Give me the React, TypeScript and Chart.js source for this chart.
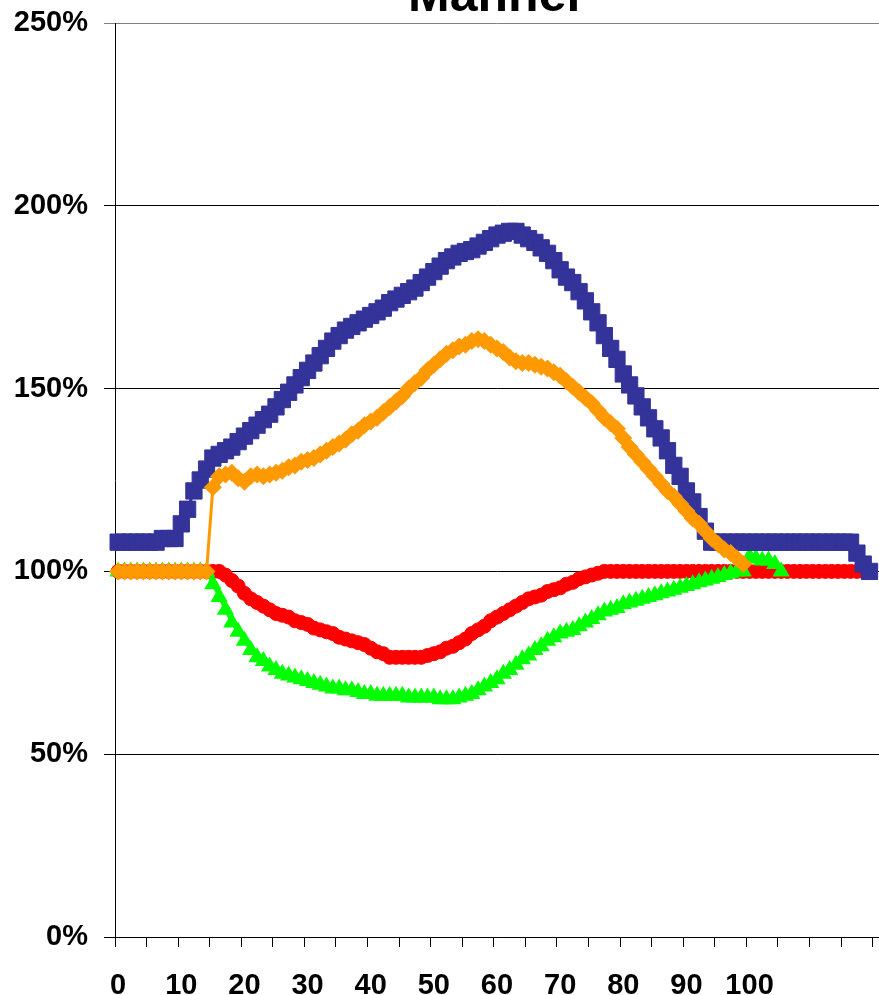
import React, { useEffect, useRef } from 'react';
import { Chart, registerables } from 'chart.js';

Chart.register(...registerables);

// Category axis: 121 positions, labelled every 10 up to 100
const categories: string[] = Array.from({ length: 121 }, (_, i) => String(i));
const xTickLabels: string[] = ['0', '10', '20', '30', '40', '50', '60', '70', '80', '90', '100'];
const yTickValues: number[] = [0, 50, 100, 150, 200, 250];

const titleText = 'Manner';

// Series values (percent)
const blueSeries: (number | null)[] = [
  108, 108, 108, 108, 108, 108, 108, 109, 109, 109,
  113, 117, 122, 125, 128, 131, 132, 133, 134, 135.5,
  137, 138.5, 140, 141.5, 143, 145, 147, 149, 151, 153,
  155, 157, 159, 161, 163, 164.5, 166, 167, 168, 169,
  170, 171, 172, 173.5, 174.5, 175.5, 176.5, 177.5, 179, 180.5,
  182, 183.5, 185, 186, 187, 187.5, 188, 189, 190, 191,
  192, 192.5, 193, 193, 192, 191, 190, 188.5, 187, 185,
  182.5, 180.5, 179, 176.5, 174, 171, 168, 164.5, 161, 158,
  154, 151, 148, 145, 142, 139, 136.5, 133, 129, 126,
  122, 119, 115, 111, 108, 108, 108, 108, 108, 108,
  108, 108, 108, 108, 108, 108, 108, 108, 108, 108,
  108, 108, 108, 108, 108, 108, 108, 105, 102, 100,
];

const orangeSeries: (number | null)[] = [
  100, 100, 100, 100, 100, 100, 100, 100, 100, 100,
  100, 100, 100, 100, 100, 123, 126, 126.5, 127, 125.5,
  124.5, 126, 126.5, 126, 126.5, 127, 127.5, 128.5, 129, 130,
  130.5, 131, 132, 133, 134, 135, 136, 137.5, 138.5, 140,
  141, 142, 143.5, 145, 146.5, 148, 150, 151.5, 153, 155,
  156.5, 158, 159.5, 160.5, 161.5, 162, 163, 163.5, 163, 162,
  161, 160, 158.5, 157.5, 157, 157, 156.5, 156, 155.5, 154.5,
  153.5, 152, 150.5, 149, 147.5, 146, 144, 142, 140.5, 139,
  136.5, 134, 132, 130, 128, 126, 124, 122, 120.5, 118.5,
  116.5, 114.5, 113, 111, 109, 107.5, 106, 105, 103.5, 102,
];

const redSeries: (number | null)[] = [
  100, 100, 100, 100, 100, 100, 100, 100, 100, 100,
  100, 100, 100, 100, 100, 100, 100, 99, 97.5, 96,
  94, 92.5, 91.5, 90.5, 89.5, 88.5, 88, 87.5, 86.5, 86,
  85.5, 84.5, 84, 83.5, 83, 82, 81.5, 81, 80.5, 80,
  79, 78, 77.5, 76.5, 76.5, 76.5, 76.5, 76.5, 76.5, 77,
  77.5, 78, 79, 79.5, 80.5, 81.5, 83, 84, 85, 86.5,
  87.5, 88.5, 89.5, 90.5, 91.5, 92.5, 93, 93.5, 94.5, 95,
  95.5, 96.5, 97, 98, 98.5, 99, 99.5, 100, 100, 100,
  100, 100, 100, 100, 100, 100, 100, 100, 100, 100,
  100, 100, 100, 100, 100, 100, 100, 100, 100, 100,
  100, 100, 100, 100, 100, 100, 100, 100, 100, 100,
  100, 100, 100, 100, 100, 100, 100, 100, 100, 100,
];

const greenSeries: (number | null)[] = [
  100, 100, 100, 100, 100, 100, 100, 100, 100, 100,
  100, 100, 100, 100, 100, 96.5, 93, 89.5, 86, 83.5,
  81, 78.5, 76.5, 75.5, 74, 73, 72, 71.5, 71, 70.5,
  70, 69.5, 69, 68.5, 68, 68, 67.5, 67.5, 67, 66.5,
  66.5, 66, 66, 66, 66, 66, 65.5, 65.5, 65.5, 65.5,
  65.5, 65, 65, 65, 65.5, 66, 66.5, 67.5, 68.5, 69.5,
  70.5, 72, 73, 74.5, 76, 77, 78.5, 79.5, 81, 82,
  83, 83.5, 84, 85, 86, 87, 88, 89, 89.5, 90,
  91, 91.5, 92, 92.5, 93, 93.5, 94, 94.5, 95, 95.5,
  96, 96.5, 97, 97.5, 98, 98.5, 99, 99.5, 100, 100,
  104, 103.5, 103, 103, 102, 100,
];

const FONT = '"Liberation Sans", Arial, Helvetica, sans-serif';

export default function App() {
  const canvasRef = useRef<HTMLCanvasElement | null>(null);

  useEffect(() => {
    const canvas = canvasRef.current;
    if (!canvas) return;
    const chart = new Chart(canvas, {
      type: 'line',
      data: {
        labels: categories,
        datasets: [
          {
            label: 'orange',
            data: orangeSeries,
            borderColor: '#FF9900',
            backgroundColor: '#FF9900',
            borderWidth: 3,
            pointStyle: 'rectRot',
            pointRadius: 9,
            pointBorderWidth: 0,
            pointBackgroundColor: '#FF9900',
            spanGaps: false,
          },
          {
            label: 'blue',
            data: blueSeries,
            borderColor: '#333399',
            backgroundColor: '#333399',
            borderWidth: 3,
            pointStyle: 'rect',
            pointRadius: 11.5,
            pointBorderWidth: 1,
            pointBackgroundColor: '#333399',
          },
          {
            label: 'green',
            data: greenSeries,
            borderColor: '#00FF00',
            backgroundColor: '#00FF00',
            borderWidth: 3,
            pointStyle: 'triangle',
            pointRadius: 10,
            pointBorderWidth: 0,
            pointBackgroundColor: '#00FF00',
          },
          {
            label: 'red',
            data: redSeries,
            borderColor: '#FF0000',
            backgroundColor: '#FF0000',
            borderWidth: 3,
            pointStyle: 'circle',
            pointRadius: 7,
            pointBorderWidth: 1,
            pointBackgroundColor: '#FF0000',
          },
        ],
      },
      options: {
        responsive: false,
        animation: false,
        layout: { autoPadding: false, padding: { top: 0, left: 0, right: 0, bottom: 0 } },
        plugins: {
          legend: { display: false },
          tooltip: { enabled: false },
          title: {
            display: true,
            fullSize: false,
            text: titleText,
            color: '#000',
            font: { family: FONT, size: 50, weight: 'bold', lineHeight: 1.2 },
            padding: { top: -33, bottom: -4 },
          },
        },
        scales: {
          x: {
            type: 'category',
            offset: true,
            grid: {
              offset: true,
              drawOnChartArea: false,
              drawTicks: true,
              tickLength: 10,
              lineWidth: 1,
              color: (ctx: any) =>
                typeof ctx.index === 'number' && ctx.index % 5 === 0 ? '#000' : 'rgba(0,0,0,0)',
            },
            border: { display: true, color: '#000', width: 1 },
            ticks: {
              autoSkip: false,
              maxRotation: 0,
              minRotation: 0,
              padding: 22,
              color: '#000',
              font: { family: FONT, size: 29, weight: 'bold' },
              callback: (_v: any, idx: number) => {
                const s = categories[idx];
                return xTickLabels.includes(s) ? s : '';
              },
            },
            afterFit: (scale: any) => {
              scale.height = 58;
              scale.paddingLeft = 0;
              scale.paddingRight = 0;
            },
          },
          y: {
            min: 0,
            max: 250,
            afterBuildTicks: (scale: any) => {
              scale.ticks = yTickValues.map((v) => ({ value: v }));
            },
            grid: {
              drawTicks: true,
              tickLength: 11,
              lineWidth: 1,
              color: (ctx: any) => (ctx.tick && ctx.tick.value === 250 ? '#808080' : '#000'),
            },
            border: { display: true, color: '#000', width: 1 },
            ticks: {
              padding: 16,
              color: '#000',
              font: { family: FONT, size: 29, weight: 'bold' },
              callback: (v: any) => `${v}%`,
            },
            afterFit: (scale: any) => {
              scale.width = 115;
              scale.paddingTop = 0;
              scale.paddingBottom = 0;
            },
          },
        },
      },
    });
    return () => chart.destroy();
  }, []);

  return (
    <div style={{ position: 'fixed', left: 0, top: 0, width: 879, height: 995, background: '#fff', overflow: 'hidden' }}>
      <canvas ref={canvasRef} width={879} height={995} style={{ display: 'block', width: 879, height: 995 }} />
    </div>
  );
}
